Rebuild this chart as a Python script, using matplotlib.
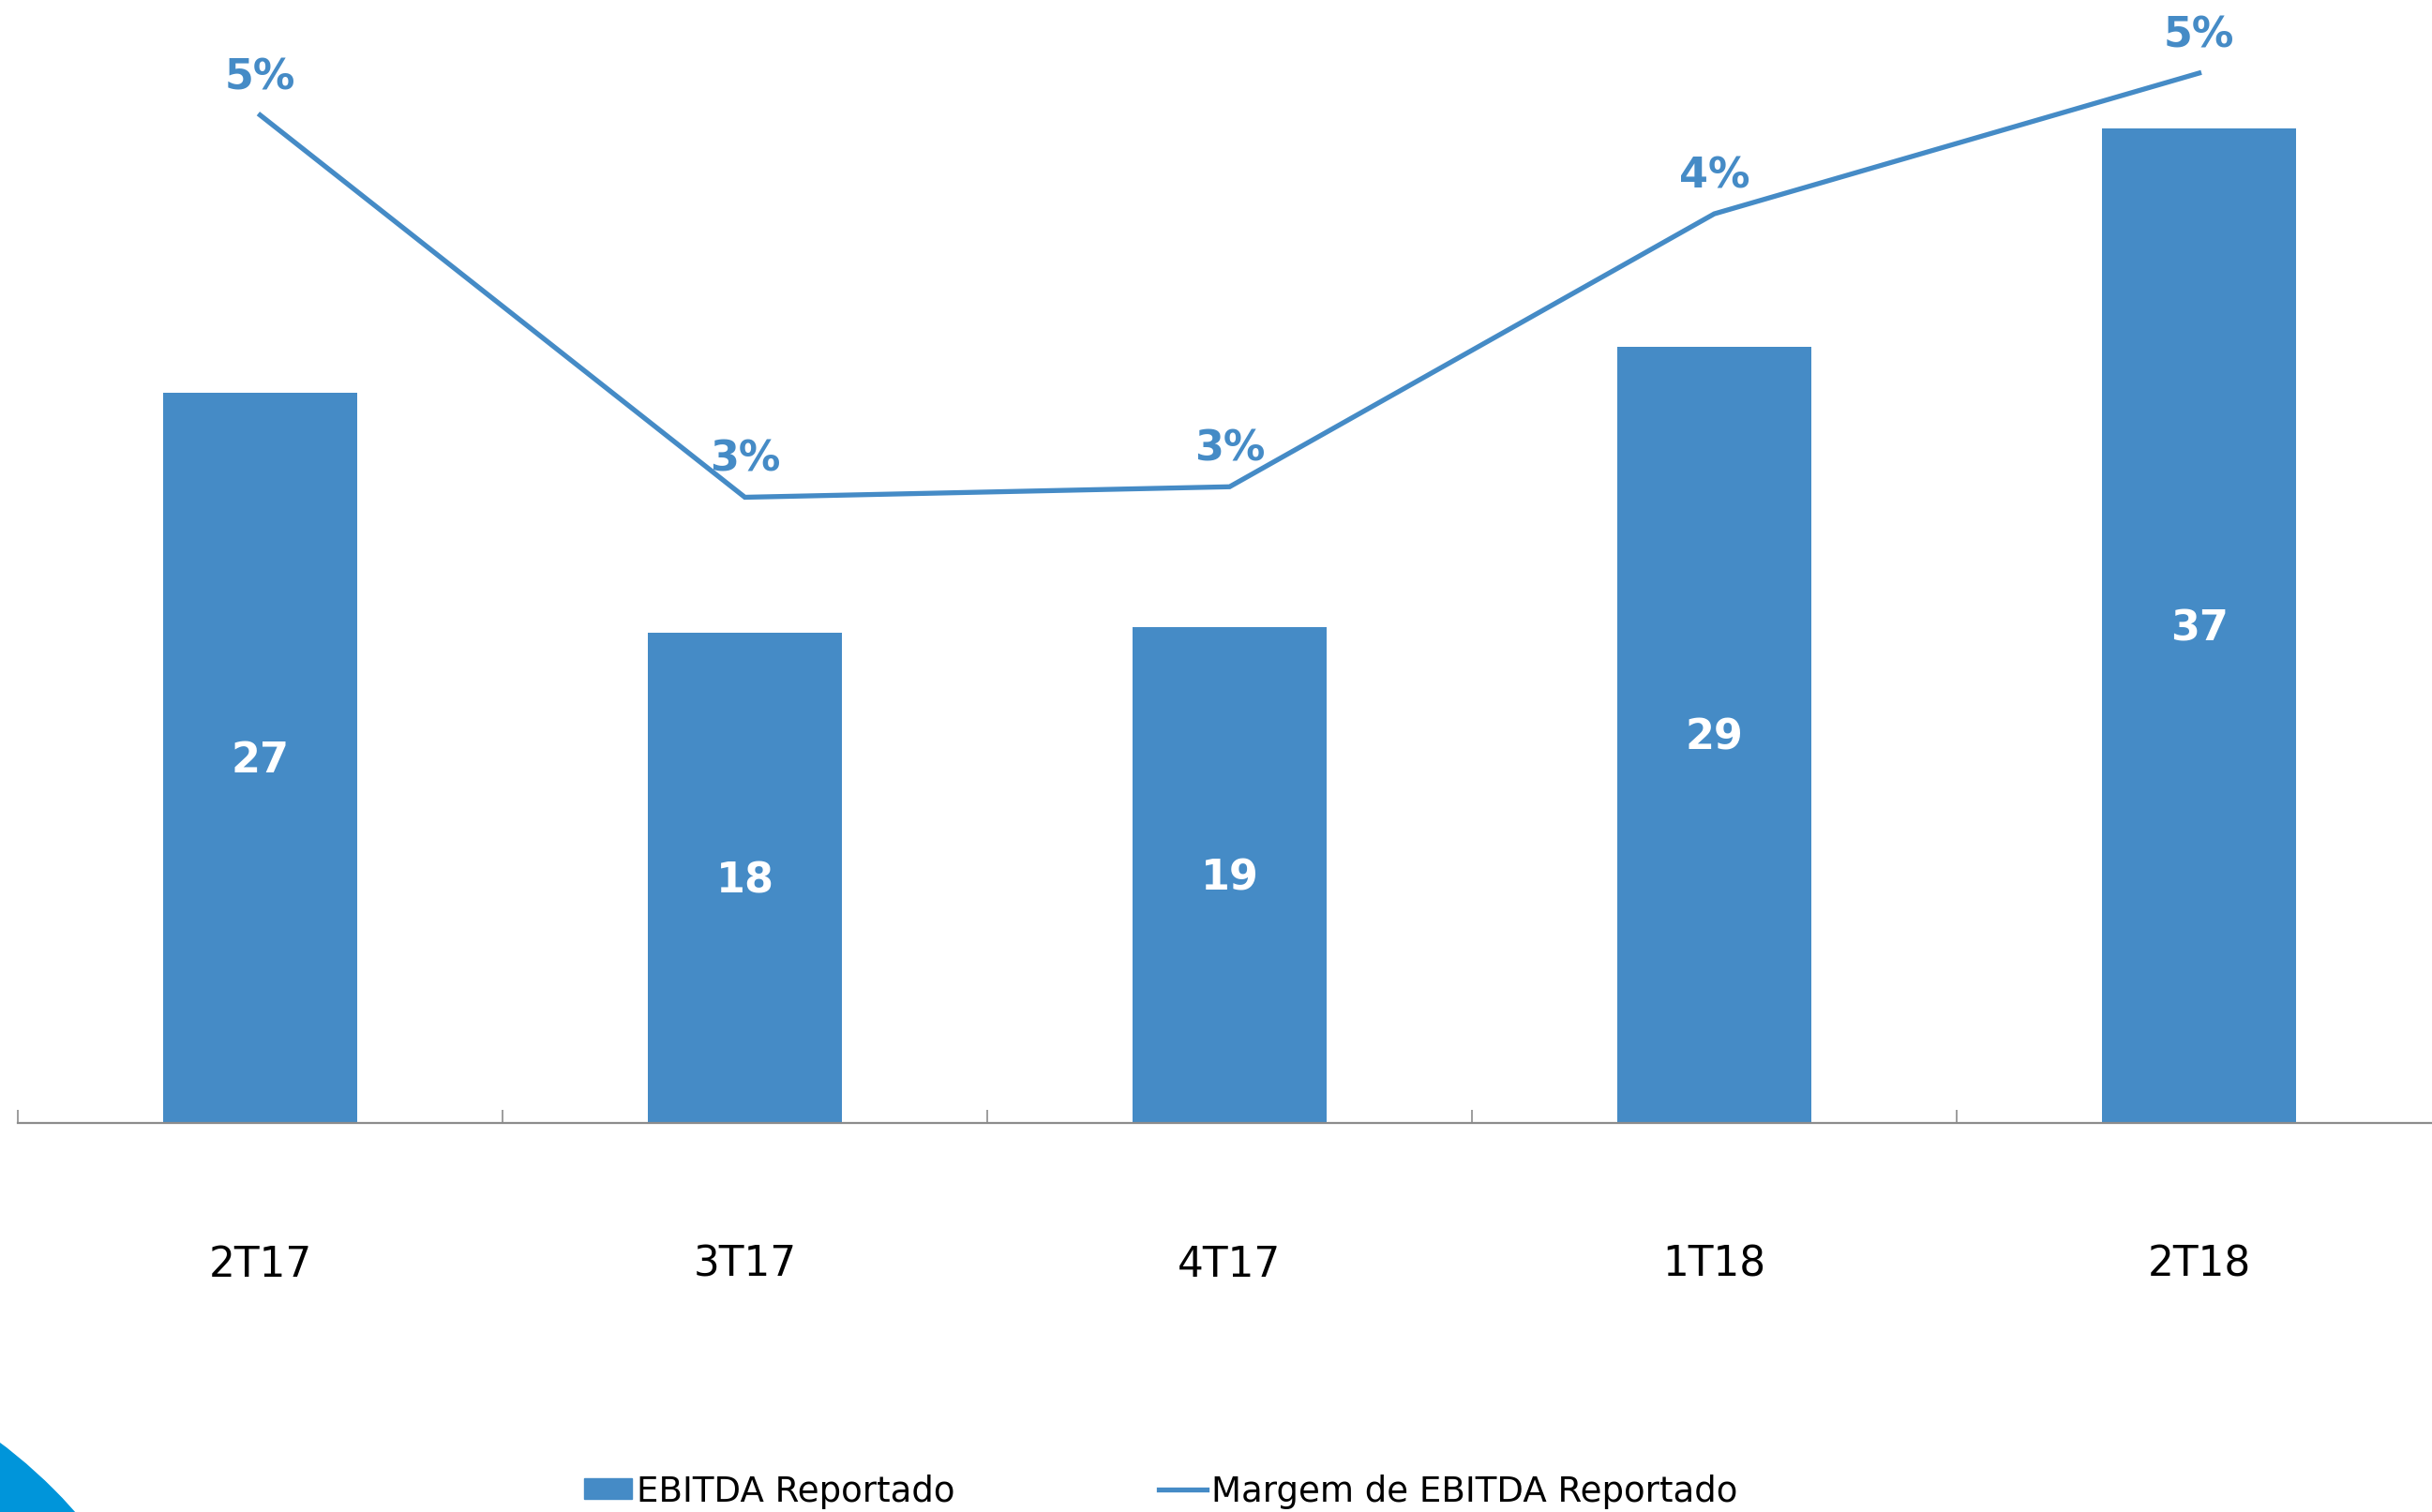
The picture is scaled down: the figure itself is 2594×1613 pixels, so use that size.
import matplotlib
matplotlib.use("Agg")
import matplotlib.pyplot as plt
from matplotlib.patches import Circle, Rectangle
from matplotlib.lines import Line2D
import matplotlib.transforms as mtransforms

# data
trimestres = ["2T17", "3T17", "4T17", "1T18", "2T18"]
ebitda = [27.1, 18.2, 18.4, 28.8, 36.9]
ebitda_rot = ["27", "18", "19", "29", "37"]
margem = [4.8, 2.98, 3.03, 4.33, 5.0]
margem_rot = ["5%", "3%", "3%", "4%", "5%"]

azul = "#458BC6"
cinza = "#8C8C8C"

W, H = 2594, 1613
fig = plt.figure(figsize=(W / 100, H / 100), dpi=100)
plt.rcParams['font.family'] = ['DejaVu Sans']

# canto azul (pixels)
fig.patches.append(Circle((-325, H - 1971), 540, transform=mtransforms.IdentityTransform(),
                          color="#0095DA", zorder=0))

# eixo ocupa da linha base (y=1198px) até o topo
ax = fig.add_axes([19 / W, (H - 1198) / H, 2585 / W, 1198 / H])
ax.set_xlim(-0.5, 4.5)
ax.set_ylim(0, 1198 / 28.75)

x = list(range(len(trimestres)))
ax.bar(x, ebitda, width=0.4, color=azul, zorder=2)

for i, (v, t) in enumerate(zip(ebitda, ebitda_rot)):
    ax.annotate(t, (i, v / 2), xytext=(0, -11.5), textcoords="offset points",
                ha="center", va="baseline", color="white",
                fontsize=32, fontweight="bold")

# linha de margem no eixo secundario
ax2 = ax.twinx()
ax2.set_ylim(0, 1198 / 224)
ax2.plot(x, margem, color=azul, lw=3.8, zorder=3, solid_joinstyle="miter")
for i, (v, t) in enumerate(zip(margem, margem_rot)):
    ax2.annotate(t, (i, v), xytext=(0, 20), textcoords="offset points",
                 ha="center", va="baseline", color=azul,
                 fontsize=32, fontweight="bold")

# eixos
for a in (ax, ax2):
    for s in ("top", "right", "left"):
        a.spines[s].set_visible(False)
    a.set_yticks([])
ax2.spines["bottom"].set_visible(False)
ax.spines["bottom"].set_color(cinza)
ax.spines["bottom"].set_linewidth(1.6)

ax.set_xticks([i - 0.5 for i in range(len(trimestres))])
ax.tick_params(axis="x", direction="in", length=10, width=1.2, color=cinza,
               labelbottom=False)

trans = mtransforms.blended_transform_factory(ax.transData, ax.transAxes)
for i, t in enumerate(trimestres):
    ax.text(i, -(1362 - 1198) / 1198, t, transform=trans, ha="center",
            va="baseline", fontsize=31.5, color="black")

# legenda
handles = [Rectangle((0, 0), 1, 1, color=azul),
           Line2D([0], [0], color=azul, lw=3.8)]
fig.legend(handles, ["EBITDA Reportado", "Margem de EBITDA Reportado"],
           loc="center", bbox_to_anchor=(1238 / W, 1 - 1591 / H), ncol=2,
           frameon=False, fontsize=26.7, handlelength=1.38, handleheight=0.54,
           handletextpad=0.14, columnspacing=5.86, borderpad=0)

fig.savefig("out.png", dpi=100)
